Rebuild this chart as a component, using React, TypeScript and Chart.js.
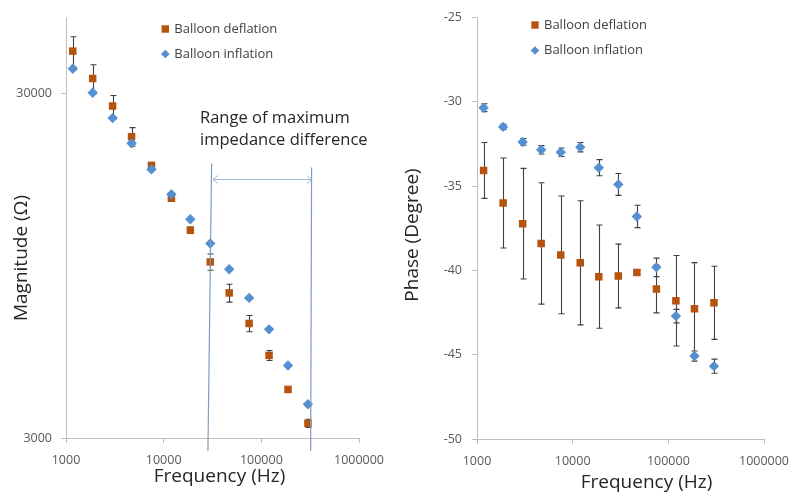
import { useEffect, useRef } from 'react';
import { Chart, registerables } from 'chart.js';
Chart.register(...registerables);

// ---- data ----
const frequencies = [1172, 1875, 3000, 4688, 7500, 12000, 18750, 30000, 46875, 75000, 120000, 187500, 300000];
const magDeflation = [39800, 33150, 27580, 22470, 18550, 14890, 12030, 9730, 7910, 6450, 5210, 4150, 3310];
const magDeflationErr = [4000, 3200, 2000, 1400, 300, 200, 250, 530, 470, 350, 175, 55, 90];
const magInflation = [35370, 30140, 25440, 21490, 18060, 15290, 12940, 11000, 9270, 7650, 6200, 4870, 3760];
const magInflationErr = [300, 200, 150, 150, 100, 100, 80, 70, 60, 50, 40, 30, 30];
const phaseDeflation = [-34.07, -36.0, -37.23, -38.4, -39.08, -39.55, -40.37, -40.33, -40.12, -41.1, -41.8, -42.28, -41.92];
const phaseDeflationErr = [1.66, 2.67, 3.28, 3.6, 3.49, 3.68, 3.06, 1.89, 0.12, 1.42, 2.68, 2.74, 2.17];
const phaseInflation = [-30.35, -31.49, -32.38, -32.85, -32.99, -32.69, -33.91, -34.9, -36.8, -39.82, -42.71, -45.08, -45.68];
const phaseInflationErr = [0.23, 0.15, 0.2, 0.25, 0.25, 0.28, 0.48, 0.65, 0.66, 0.55, 0.4, 0.3, 0.42];
const freqTicks = [1000, 10000, 100000, 1000000];
const magTicks = [3000, 30000];
const phaseTicks = [-50, -45, -40, -35, -30, -25];
const seriesNames = ['Balloon deflation', 'Balloon inflation'];
// range annotation (frequency, magnitude) endpoints of the two bounding lines
const rangeLeftLine = [30970, 18800, 28400, 2750];
const rangeRightLine = [327000, 18300, 320000, 2750];
const rangeArrow = [31900, 329000, 16900];
const rangeText = ['Range of maximum', 'impedance difference'];

const ORANGE = '#B5530F';
const BLUE = '#5590D0';
const FONT = "'Open Sans', sans-serif";
const AXIS = '#BFBFBF';
const TICKC = '#595959';

const pts = (ys: number[]) => frequencies.map((x, i) => ({ x, y: ys[i] }));

const errorBarPlugin = {
  id: 'errorBars',
  beforeDatasetsDraw(chart: any) {
    const ctx = chart.ctx;
    const xs = chart.scales.x, ys = chart.scales.y;
    chart.data.datasets.forEach((ds: any) => {
      const errs = ds.errors;
      if (!errs) return;
      ctx.save();
      ctx.strokeStyle = '#404040';
      ctx.lineWidth = 1.1;
      ds.data.forEach((p: any, j: number) => {
        const e = errs[j];
        if (!e) return;
        const px = Math.round(xs.getPixelForValue(p.x)) + 0.5;
        const t = ys.getPixelForValue(p.y + e);
        const b = ys.getPixelForValue(p.y - e);
        ctx.beginPath();
        ctx.moveTo(px, t); ctx.lineTo(px, b);
        ctx.moveTo(px - 3, t); ctx.lineTo(px + 3, t);
        ctx.moveTo(px - 3, b); ctx.lineTo(px + 3, b);
        ctx.stroke();
      });
      ctx.restore();
    });
  },
};

function decorPlugin(o: any) {
  return {
    id: 'decor',
    afterDraw(chart: any) {
      const ctx = chart.ctx;
      ctx.save();
      // legend
      const lg = o.legend;
      ctx.font = `13px ${FONT}`;
      ctx.fillStyle = '#404040';
      ctx.textBaseline = 'middle';
      ctx.textAlign = 'left';
      ctx.fillText(seriesNames[0], lg.x + 9, lg.y);
      ctx.fillText(seriesNames[1], lg.x + 9, lg.y + lg.gap);
      ctx.fillStyle = ORANGE;
      ctx.fillRect(lg.x - 3.7, lg.y - 3.7, 7.4, 7.4);
      ctx.fillStyle = BLUE;
      ctx.beginPath();
      const dy = lg.y + lg.gap;
      ctx.moveTo(lg.x, dy - 4.3); ctx.lineTo(lg.x + 4.3, dy); ctx.lineTo(lg.x, dy + 4.3); ctx.lineTo(lg.x - 4.3, dy);
      ctx.closePath(); ctx.fill();
      // axis titles
      ctx.fillStyle = '#262626';
      ctx.font = `19px ${FONT}`;
      ctx.textAlign = 'center';
      ctx.fillText(o.xTitle, o.xTitlePos[0], o.xTitlePos[1]);
      ctx.translate(o.yTitlePos[0], o.yTitlePos[1]);
      ctx.rotate(-Math.PI / 2);
      ctx.fillText(o.yTitle, 0, 0);
      ctx.restore();
    },
  };
}

const rangePlugin = {
  id: 'range',
  afterDraw(chart: any) {
    const ctx = chart.ctx;
    const xs = chart.scales.x, ys = chart.scales.y;
    ctx.save();
    ctx.strokeStyle = '#7F9DBB';
    ctx.lineWidth = 1.2;
    [rangeLeftLine, rangeRightLine].forEach((l) => {
      ctx.beginPath();
      ctx.moveTo(xs.getPixelForValue(l[0]), ys.getPixelForValue(l[1]));
      ctx.lineTo(xs.getPixelForValue(l[2]), ys.getPixelForValue(l[3]));
      ctx.stroke();
    });
    const ax1 = xs.getPixelForValue(rangeArrow[0]);
    const ax2 = xs.getPixelForValue(rangeArrow[1]);
    const ay = Math.round(ys.getPixelForValue(rangeArrow[2])) + 0.5;
    ctx.strokeStyle = '#9DB8D2';
    ctx.lineWidth = 1;
    ctx.beginPath();
    ctx.moveTo(ax1, ay); ctx.lineTo(ax2, ay);
    ctx.moveTo(ax1 + 5, ay - 4); ctx.lineTo(ax1, ay); ctx.lineTo(ax1 + 5, ay + 4);
    ctx.moveTo(ax2 - 5, ay - 4); ctx.lineTo(ax2, ay); ctx.lineTo(ax2 - 5, ay + 4);
    ctx.stroke();
    ctx.fillStyle = '#262626';
    ctx.font = `16.5px ${FONT}`;
    ctx.textAlign = 'left';
    ctx.textBaseline = 'middle';
    ctx.fillText(rangeText[0], 200, 118);
    ctx.fillText(rangeText[1], 200, 140);
    ctx.restore();
  },
};

function scaleCommon() {
  return {
    grid: { display: true, drawOnChartArea: false, drawTicks: true, tickLength: 5, color: AXIS },
    border: { display: true, color: AXIS, width: 1 },
  };
}

function makeConfig(opts: any): any {
  return {
    type: 'scatter',
    data: {
      datasets: [
        {
          label: seriesNames[1],
          data: pts(opts.inf),
          errors: opts.infErr,
          pointStyle: 'rectRot',
          pointRadius: 5.2,
          backgroundColor: BLUE,
          borderColor: BLUE,
          borderWidth: 0,
          order: 0,
        },
        {
          label: seriesNames[0],
          data: pts(opts.def),
          errors: opts.defErr,
          pointStyle: 'rect',
          pointRadius: 5.3,
          backgroundColor: ORANGE,
          borderColor: ORANGE,
          borderWidth: 0,
          order: 1,
        },
      ],
    },
    options: {
      responsive: false,
      animation: false,
      devicePixelRatio: 1,
      layout: { padding: opts.padding },
      plugins: { legend: { display: false }, tooltip: { enabled: false } },
      scales: {
        x: {
          type: 'logarithmic',
          min: 1000,
          max: 1000000,
          ...scaleCommon(),
          afterBuildTicks: (s: any) => { s.ticks = freqTicks.map((v) => ({ value: v })); },
          afterFit: (s: any) => { s.height = opts.xHeight; },
          ticks: { color: TICKC, font: { family: FONT, size: 12.5 }, padding: 10, maxRotation: 0, autoSkip: false, callback: (v: any) => String(v) },
        },
        y: opts.y,
      },
    },
    plugins: opts.plugins,
  };
}

export default function App() {
  const leftRef = useRef<HTMLCanvasElement>(null);
  const rightRef = useRef<HTMLCanvasElement>(null);
  useEffect(() => {
    const left = new Chart(leftRef.current as HTMLCanvasElement, makeConfig({
      inf: magInflation, infErr: magInflationErr, def: magDeflation, defErr: magDeflationErr,
      padding: { top: 17, right: 41, left: 0, bottom: 0 },
      xHeight: 66,
      y: {
        type: 'logarithmic',
        min: 3000,
        max: 50000,
        ...scaleCommon(),
        afterBuildTicks: (s: any) => { s.ticks = magTicks.map((v) => ({ value: v })); },
        afterFit: (s: any) => { s.width = 66; },
        ticks: { color: TICKC, font: { family: FONT, size: 12.5 }, padding: 9, autoSkip: false, callback: (v: any) => String(v) },
      },
      plugins: [errorBarPlugin, rangePlugin, decorPlugin({
        legend: { x: 165.3, y: 29, gap: 25 },
        xTitle: 'Frequency (Hz)', xTitlePos: [219.5, 477],
        yTitle: 'Magnitude (Ω)', yTitlePos: [22, 258],
      })],
    }));
    const right = new Chart(rightRef.current as HTMLCanvasElement, makeConfig({
      inf: phaseInflation, infErr: phaseInflationErr, def: phaseDeflation, defErr: phaseDeflationErr,
      padding: { top: 12, right: 36, left: 0, bottom: 0 },
      xHeight: 65,
      y: {
        type: 'linear',
        min: -50,
        max: -25,
        ...scaleCommon(),
        afterBuildTicks: (s: any) => { s.ticks = phaseTicks.map((v) => ({ value: v })); },
        afterFit: (s: any) => { s.width = 77; },
        ticks: { color: TICKC, font: { family: FONT, size: 12.5 }, padding: 10, autoSkip: false },
      },
      plugins: [errorBarPlugin, decorPlugin({
        legend: { x: 135, y: 25, gap: 25.5 },
        xTitle: 'Frequency (Hz)', xTitlePos: [246.5, 483],
        yTitle: 'Phase (Degree)', yTitlePos: [13, 235],
      })],
    }));
    return () => { left.destroy(); right.destroy(); };
  }, []);
  return (
    <div style={{ position: 'fixed', left: 0, top: 0, width: 800, height: 504, background: '#fff' }}>
      <canvas ref={leftRef} width={400} height={504} style={{ position: 'absolute', left: 0, top: 0, width: 400, height: 504 }} />
      <canvas ref={rightRef} width={400} height={504} style={{ position: 'absolute', left: 400, top: 0, width: 400, height: 504 }} />
    </div>
  );
}
